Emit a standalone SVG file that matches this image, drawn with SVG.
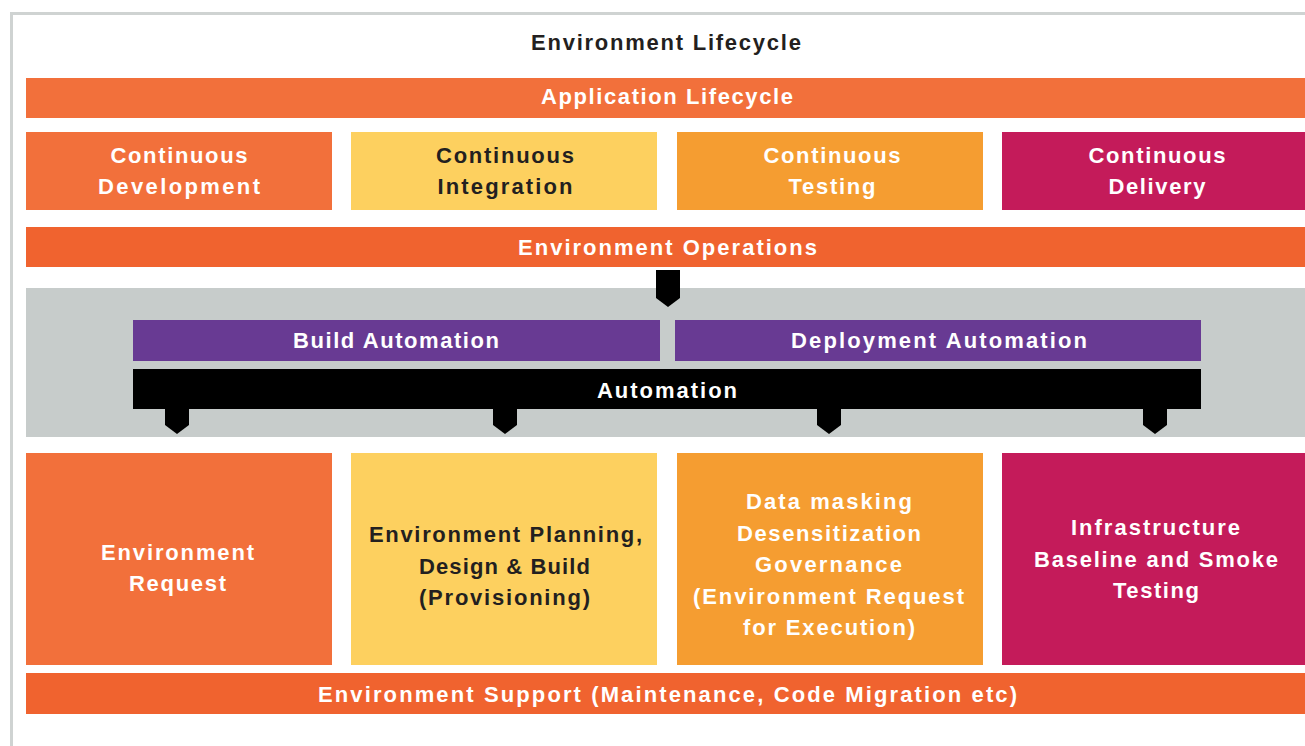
<svg xmlns="http://www.w3.org/2000/svg" width="1305" height="746" viewBox="0 0 1305 746">
  <style>
    .t { font-family: "Liberation Sans", Arial, sans-serif; font-weight: bold; font-size: 22px; text-anchor: middle; fill: #ffffff; }
    .dark { fill: #231f20; }
    .orange { fill: #f2703b; }
    .red { fill: #f0632f; }
    .yellow { fill: #fdd05f; }
    .amber { fill: #f59d31; }
    .magenta { fill: #c41b5a; }
    .purple { fill: #683a93; }
    .arrow { fill: #000000; }
  </style>

  <rect x="0" y="0" width="1305" height="746" fill="#ffffff"/>
  <!-- outer frame -->
  <path d="M11.5 746 V13.5 H1305" fill="none" stroke="#cfd3d2" stroke-width="3"/>

  <g id="title">
    <text class="t dark" x="666" y="50" textLength="270" lengthAdjust="spacing">Environment Lifecycle</text>
  </g>

  <g id="application-lifecycle">
    <rect class="orange" x="26" y="78" width="1279" height="40"/>
    <text class="t" x="667" y="104" textLength="252" lengthAdjust="spacing">Application Lifecycle</text>
  </g>

  <g id="continuous-development">
    <rect class="orange" x="26" y="132" width="306" height="78"/>
    <text class="t" x="179" y="163" textLength="137" lengthAdjust="spacing">Continuous</text>
    <text class="t" x="179" y="194" textLength="162" lengthAdjust="spacing">Development</text>
  </g>
  <g id="continuous-integration">
    <rect class="yellow" x="351" y="132" width="306" height="78"/>
    <text class="t dark" x="505" y="163" textLength="138" lengthAdjust="spacing">Continuous</text>
    <text class="t dark" x="505" y="194" textLength="135" lengthAdjust="spacing">Integration</text>
  </g>
  <g id="continuous-testing">
    <rect class="amber" x="677" y="132" width="306" height="78"/>
    <text class="t" x="832" y="163" textLength="137" lengthAdjust="spacing">Continuous</text>
    <text class="t" x="832" y="194" textLength="87" lengthAdjust="spacing">Testing</text>
  </g>
  <g id="continuous-delivery">
    <rect class="magenta" x="1002" y="132" width="303" height="78"/>
    <text class="t" x="1157" y="163" textLength="137" lengthAdjust="spacing">Continuous</text>
    <text class="t" x="1157" y="194" textLength="97" lengthAdjust="spacing">Delivery</text>
  </g>

  <g id="environment-operations">
    <rect class="red" x="26" y="227" width="1279" height="40"/>
    <text class="t" x="667.5" y="255" textLength="299" lengthAdjust="spacing">Environment Operations</text>
  </g>

  <g id="automation-panel">
    <rect x="26" y="288" width="1279" height="149" fill="#c7cccb"/>
  </g>
  <g id="build-automation">
    <rect class="purple" x="133" y="320" width="527" height="41"/>
    <text class="t" x="396" y="348" textLength="206" lengthAdjust="spacing">Build Automation</text>
  </g>
  <g id="deployment-automation">
    <rect class="purple" x="675" y="320" width="526" height="41"/>
    <text class="t" x="939" y="348" textLength="296" lengthAdjust="spacing">Deployment Automation</text>
  </g>
  <g id="automation">
    <rect x="133" y="369" width="1068" height="40" fill="#000000"/>
    <text class="t" x="667" y="398" textLength="140" lengthAdjust="spacing">Automation</text>
  </g>

  <g id="connectors">
    <path class="arrow" d="M656 270 H680 V298 L668 307 L656 298 Z"/>
    <path class="arrow" d="M165 409 H189 V425 L177 434 L165 425 Z"/>
    <path class="arrow" d="M493 409 H517 V425 L505 434 L493 425 Z"/>
    <path class="arrow" d="M817 409 H841 V425 L829 434 L817 425 Z"/>
    <path class="arrow" d="M1143 409 H1167 V425 L1155 434 L1143 425 Z"/>
  </g>

  <g id="environment-request">
    <rect class="orange" x="26" y="453" width="306" height="212"/>
    <text class="t" x="177.5" y="560" textLength="153" lengthAdjust="spacing">Environment</text>
    <text class="t" x="177.5" y="591" textLength="97" lengthAdjust="spacing">Request</text>
  </g>
  <g id="environment-planning">
    <rect class="yellow" x="351" y="453" width="306" height="212"/>
    <text class="t dark" x="505.5" y="542" textLength="273" lengthAdjust="spacing">Environment Planning,</text>
    <text class="t dark" x="504.5" y="574" textLength="171" lengthAdjust="spacing">Design &amp; Build</text>
    <text class="t dark" x="504.5" y="605" textLength="171" lengthAdjust="spacing">(Provisioning)</text>
  </g>
  <g id="data-masking">
    <rect class="amber" x="677" y="453" width="306" height="212"/>
    <text class="t" x="829" y="509" textLength="166" lengthAdjust="spacing">Data masking</text>
    <text class="t" x="829" y="541" textLength="184" lengthAdjust="spacing">Desensitization</text>
    <text class="t" x="828.5" y="572" textLength="147" lengthAdjust="spacing">Governance</text>
    <text class="t" x="828.5" y="604" textLength="271" lengthAdjust="spacing">(Environment Request</text>
    <text class="t" x="829" y="635" textLength="172" lengthAdjust="spacing">for Execution)</text>
  </g>
  <g id="infrastructure-testing">
    <rect class="magenta" x="1002" y="453" width="303" height="212"/>
    <text class="t" x="1155.5" y="535" textLength="169" lengthAdjust="spacing">Infrastructure</text>
    <text class="t" x="1156" y="567" textLength="244" lengthAdjust="spacing">Baseline and Smoke</text>
    <text class="t" x="1156" y="598" textLength="86" lengthAdjust="spacing">Testing</text>
  </g>

  <g id="environment-support">
    <rect class="red" x="26" y="673" width="1279" height="41"/>
    <text class="t" x="667.5" y="702" textLength="699" lengthAdjust="spacing">Environment Support (Maintenance, Code Migration etc)</text>
  </g>
</svg>
